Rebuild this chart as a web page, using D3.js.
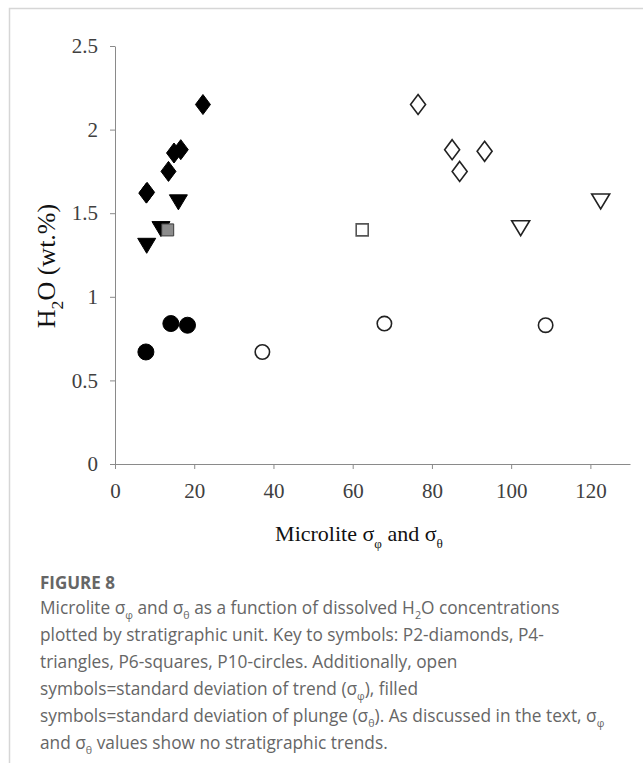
<!DOCTYPE html>
<html>
<head>
<meta charset="utf-8">
<script src="https://cdn.jsdelivr.net/npm/d3@7"></script>
<style>
	body { margin: 0; background: #fff; }
	svg { display: block; }
</style>
</head>
<body>
<div id="chart"></div>
<script>
// values: x = microlite sigma (deg), y = H2O (wt.%)
const units = ["P2", "P4", "P6", "P10"];
const shapes = ["diamond", "triangle", "square", "circle"];

// filled symbols = standard deviation of plunge (sigma theta)
const plungeX = [[22.2, 14.9, 16.6, 13.5, 7.9, 8.1], [16.0, 11.6, 8.0], [13.3], [14.1, 18.3, 7.8]];
const plungeY = [[2.15, 1.86, 1.88, 1.75, 1.62, 1.625], [1.565, 1.405, 1.305], [1.40], [0.84, 0.83, 0.67]];

// open symbols = standard deviation of trend (sigma phi)
const trendX = [[76.5, 85.1, 93.3, 87.0], [122.6, 102.4], [62.4], [37.2, 68.0, 108.7]];
const trendY = [[2.15, 1.88, 1.87, 1.75], [1.57, 1.41], [1.40], [0.67, 0.84, 0.83]];

const xTicks = [0, 20, 40, 60, 80, 100, 120];
const yTicks = [0, 0.5, 1, 1.5, 2, 2.5];

const captionTitle = "FIGURE 8";
// each line: list of [text, isSubscript]
const captionLines = [
	[["Microlite σ"], ["φ", 1], [" and σ"], ["θ", 1], [" as a function of dissolved H"], ["2", 1], ["O concentrations"]],
	[["plotted by stratigraphic unit. Key to symbols: P2-diamonds, P4-"]],
	[["triangles, P6-squares, P10-circles. Additionally, open"]],
	[["symbols=standard deviation of trend (σ"], ["φ", 1], ["), filled"]],
	[["symbols=standard deviation of plunge (σ"], ["θ", 1], ["). As discussed in the text, σ"], ["φ", 1]],
	[["and σ"], ["θ", 1], [" values show no stratigraphic trends."]]
];

const width = 643, height = 763;
const svg = d3.select("#chart").append("svg")
	.attr("width", width)
	.attr("height", height);

// page frame
svg.append("path")
	.attr("d", "M9.5," + height + "V8.5H" + width)
	.attr("fill", "none")
	.attr("stroke", "#d6d6d6")
	.attr("stroke-width", 1.5);

const x = d3.scaleLinear().domain([0, 130]).range([115, 630]);
const y = d3.scaleLinear().domain([0, 2.5]).range([464, 46]);

const serif = "'Liberation Serif', 'Times New Roman', serif";

const xAxis = svg.append("g")
	.attr("transform", "translate(0," + y(0) + ")")
	.call(d3.axisBottom(x).tickValues(xTicks).tickSize(5).tickSizeOuter(0).tickPadding(14));
const yAxis = svg.append("g")
	.attr("transform", "translate(" + x(0) + ",0)")
	.call(d3.axisLeft(y).tickValues(yTicks).tickSize(5).tickSizeOuter(0).tickPadding(12).tickFormat(d => String(d)));

[xAxis, yAxis].forEach(function(g){
	g.selectAll("path, line").attr("stroke", "#8a8a8a");
	g.selectAll("text")
		.attr("fill", "#404040")
		.style("font-family", serif)
		.style("font-size", "21px");
});

// shapes sized like the original excel markers
function markerPath(shape){
	if (shape == "diamond") return "M0,-10L7.5,0L0,10L-7.5,0Z";
	if (shape == "triangle") return "M-9,-7.5L9,-7.5L0,7.5Z";
	if (shape == "square") return "M-6,-6H6V6H-6Z";
	return null;
}

function drawPoints(xs, ys, filled){
	units.forEach(function(u, i){
		const pts = xs[i].map((v, j) => ({x: v, y: ys[i][j]}));
		const shape = shapes[i];
		const g = svg.append("g").attr("class", (filled ? "plunge " : "trend ") + u);
		let sel;
		if (shape == "circle") {
			sel = g.selectAll("circle").data(pts).join("circle")
				.attr("cx", d => x(d.x))
				.attr("cy", d => y(d.y))
				.attr("r", filled ? 8 : 7.2);
		} else {
			sel = g.selectAll("path").data(pts).join("path")
				.attr("transform", d => "translate(" + x(d.x) + "," + y(d.y) + ")")
				.attr("d", markerPath(shape));
		}
		if (filled) {
			sel.attr("fill", shape == "square" ? "#8c8c8c" : "#000")
				.attr("stroke", shape == "square" ? "#3a3a3a" : "#000")
				.attr("stroke-width", 1);
		} else {
			sel.attr("fill", "none")
				.attr("stroke", shape == "square" ? "#555" : "#222")
				.attr("stroke-width", 1.6);
		}
	});
}

drawPoints(trendX, trendY, false);
drawPoints(plungeX, plungeY, true);

// text with subscripts
function richText(textSel, parts, size, ratio){
	const shift = size * 0.3;
	let down = false;
	parts.forEach(function(p){
		const t = textSel.append("tspan").text(p[0]);
		if (p[1]) {
			t.style("font-size", (size * (ratio || 0.68)) + "px").attr("dy", shift);
			down = true;
		} else if (down) {
			t.attr("dy", -shift);
			down = false;
		}
	});
}

const xTitle = svg.append("text")
	.attr("x", 359)
	.attr("y", 541)
	.attr("text-anchor", "middle")
	.attr("fill", "#111")
	.style("font-family", serif)
	.style("font-size", "22px");
richText(xTitle, [["Microlite σ"], ["φ", 1], [" and σ"], ["θ", 1]], 22, 0.6);

const yTitle = svg.append("text")
	.attr("transform", "translate(55,266) rotate(-90)")
	.attr("text-anchor", "middle")
	.attr("fill", "#111")
	.style("font-family", serif)
	.style("font-size", "26px");
richText(yTitle, [["H"], ["2", 1], ["O (wt.%)"]], 26);

// caption
const sans = "'Open Sans', 'Noto Sans', sans-serif";
svg.append("text")
	.attr("x", 40)
	.attr("y", 589)
	.attr("fill", "#666")
	.style("font-family", sans)
	.style("font-weight", "bold")
	.style("font-size", "17px")
	.text(captionTitle);

captionLines.forEach(function(line, i){
	const t = svg.append("text")
		.attr("x", 40)
		.attr("y", 614 + i * 27)
		.attr("fill", "#666")
		.style("font-family", sans)
		.style("font-size", "17.3px");
	richText(t, line, 17.3, 0.62);
});
</script>
</body>
</html>
